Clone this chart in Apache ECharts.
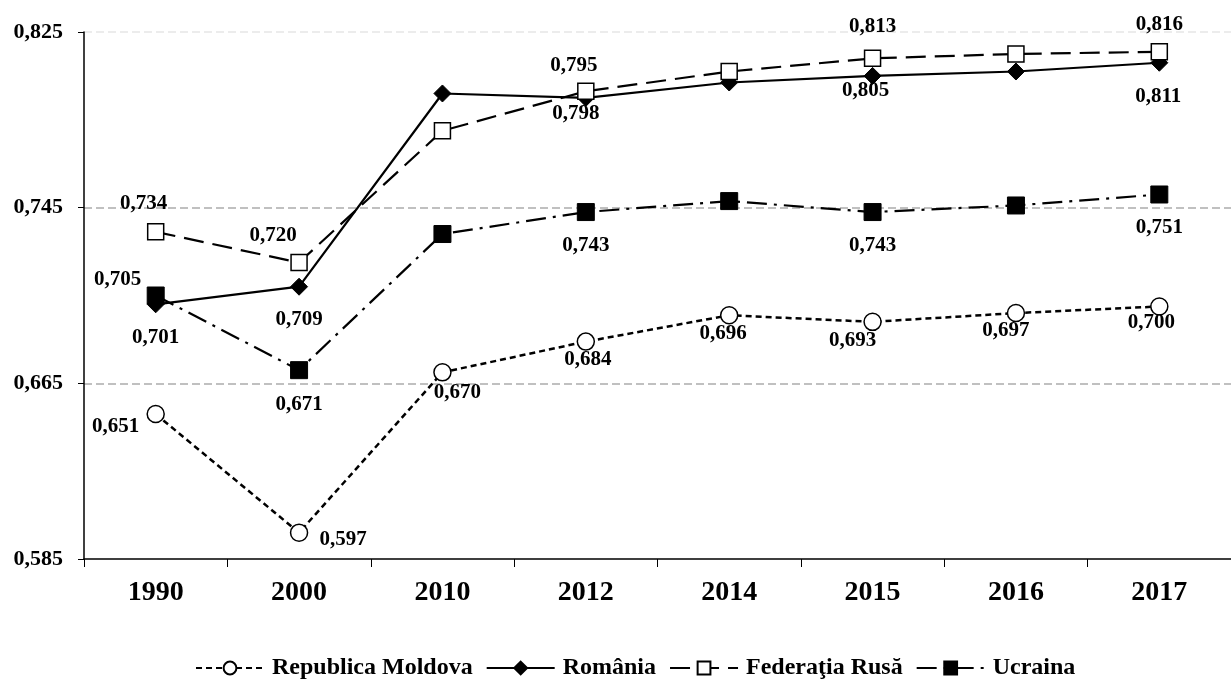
<!DOCTYPE html>
<html>
<head>
<meta charset="utf-8">
<script src="https://cdn.jsdelivr.net/npm/echarts@6/dist/echarts.min.js"></script>
<style>html,body{margin:0;padding:0;background:#fff;}#c{width:1231px;height:691px;}</style>
</head>
<body>
<div id="c"></div>
<script>
const categories = ['1990','2000','2010','2012','2014','2015','2016','2017'];
const moldova = [0.651,0.597,0.670,0.684,0.696,0.693,0.697,0.700];
const romania = [0.701,0.709,0.797,0.795,0.802,0.805,0.807,0.811];
const rusia   = [0.734,0.720,0.780,0.798,0.807,0.813,0.815,0.816];
const ucraina = [0.705,0.671,0.733,0.743,0.748,0.743,0.746,0.751];
const seriesNames = ['Republica Moldova','România','Federaţia Rusă','Ucraina'];
const yMin = 0.585, yMax = 0.825, yStep = 0.08;

// label placement (offset of label centre from the point), null = no label
const moldovaLabels = [[-40,13],[44,7],[15,20],[2,18],[-6,18],[-20,19],[-10,18],[-8,16]];
const romaniaLabels = [[0,33],[0,33],null,[-12,-32],null,[-7,15],null,[-1,34]];
const rusiaLabels   = [[-12,-28],[-26,-27],null,[-10,22],null,[0,-32],null,[0,-27]];
const ucrainaLabels = [[-38,-16],[0,34],null,[0,34],null,[0,34],null,[0,33]];

const fmt = v => v.toFixed(3).replace('.', ',');
const FONT = 'Liberation Serif';

function build(values, labels) {
  return values.map((v, i) => {
    const l = labels[i];
    if (!l) return { value: v, label: { show: false } };
    return { value: v, label: { show: true, position: 'inside', offset: l } };
  });
}

const labelStyle = {
  formatter: p => fmt(p.value),
  fontFamily: FONT, fontWeight: 'bold', fontSize: 21, color: '#000'
};

const chart = echarts.init(document.getElementById('c'), null, {renderer: 'canvas'});
chart.setOption({
  animation: false,
  backgroundColor: '#fff',
  grid: { left: 84, top: 32, width: 1160, height: 527, containLabel: false },
  legend: {
    top: 651, left: 190,
    itemWidth: 68, itemHeight: 16, itemGap: 13,
    textStyle: { fontFamily: FONT, fontWeight: 'bold', fontSize: 24, color: '#000', padding: [0,0,0,3] },
    data: seriesNames
  },
  xAxis: {
    type: 'category', data: categories, boundaryGap: true,
    axisLine: { lineStyle: { color: '#000', width: 1.5 } },
    axisTick: { show: true, length: 8, lineStyle: { color: '#000' }, alignWithLabel: false },
    axisLabel: { fontFamily: FONT, fontWeight: 'bold', fontSize: 28, color: '#000', margin: 20 },
    splitLine: { show: false }
  },
  yAxis: {
    type: 'value', min: yMin, max: yMax, interval: yStep,
    axisLine: { show: true, lineStyle: { color: '#000', width: 1.5 } },
    axisTick: { show: true, length: 6, lineStyle: { color: '#000' } },
    axisLabel: { formatter: v => fmt(v), fontFamily: FONT, fontWeight: 'bold', fontSize: 22, color: '#000', margin: 21 },
    splitLine: { show: true, lineStyle: { color: ['rgba(0,0,0,0)','#c0c0c0','#c0c0c0','#ececec'], width: 2, type: [8,4] } }
  },
  series: [
    {
      name: seriesNames[0], type: 'line', data: build(moldova, moldovaLabels),
      symbol: 'circle', symbolSize: 17,
      itemStyle: { color: '#fff', borderColor: '#000', borderWidth: 1.5 },
      lineStyle: { color: '#000', width: 2.5, type: [6,4] },
      label: labelStyle, z: 3
    },
    {
      name: seriesNames[1], type: 'line', data: build(romania, romaniaLabels),
      symbol: 'diamond', symbolSize: 17,
      itemStyle: { color: '#000', borderColor: '#000', borderWidth: 1 },
      lineStyle: { color: '#000', width: 2.2, type: 'solid' },
      label: labelStyle, z: 4
    },
    {
      name: seriesNames[2], type: 'line', data: build(rusia, rusiaLabels),
      symbol: 'rect', symbolSize: 16,
      itemStyle: { color: '#fff', borderColor: '#000', borderWidth: 1.5 },
      lineStyle: { color: '#000', width: 2.2, type: [20,9] },
      label: labelStyle, z: 5
    },
    {
      name: seriesNames[3], type: 'line', data: build(ucraina, ucrainaLabels),
      symbol: 'rect', symbolSize: 17,
      itemStyle: { color: '#000', borderColor: '#000', borderWidth: 1 },
      lineStyle: { color: '#000', width: 2.2, type: [20,7,3,7] },
      label: labelStyle, z: 3
    }
  ]
});
</script>
</body>
</html>
